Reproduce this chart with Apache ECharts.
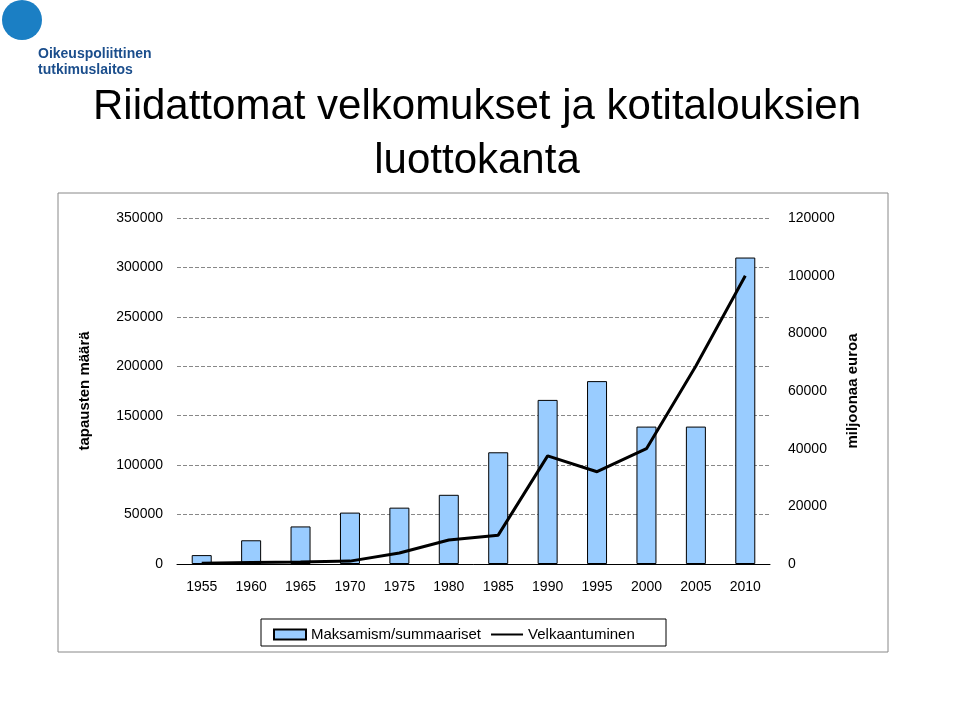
<!DOCTYPE html>
<html><head><meta charset="utf-8">
<script src="https://cdn.jsdelivr.net/npm/echarts@6/dist/echarts.min.js"></script>
<style>html,body{margin:0;padding:0;background:#fff}#c{width:959px;height:717px}</style>
</head><body><div id="c"></div>
<script>
const years = ['1955','1960','1965','1970','1975','1980','1985','1990','1995','2000','2005','2010'];
const maksamism = [9000,24000,38000,52000,57000,70000,113000,166000,185000,139000,139000,310000];
const velkaantuminen = [300,500,700,1000,3800,8300,10000,37500,32000,40000,68700,100000];
const chart = echarts.init(document.getElementById('c'));
const F = 'Liberation Sans, Arial, sans-serif';
chart.setOption({
  animation:false,
  graphic:[
    {type:'rect',shape:{x:58,y:193,width:830,height:459},style:{fill:'none',stroke:'#888',lineWidth:1}},
    {type:'circle',shape:{cx:22,cy:20,r:20},style:{fill:'#1b7fc4'}},
    {type:'text',x:38,y:46,style:{text:'Oikeuspoliittinen\ntutkimuslaitos',font:'bold 14px '+F,fill:'#1b4e8c',lineHeight:16}},
    {type:'text',x:477,y:80,style:{text:'Riidattomat velkomukset ja kotitalouksien\nluottokanta',font:'42px '+F,fill:'#000',align:'center',lineHeight:54}},
    {type:'rect',shape:{x:261,y:619,width:405,height:27},style:{fill:'#fff',stroke:'#000',lineWidth:1}}
  ],
  legend:{left:268,top:622,itemWidth:32,itemHeight:10,itemGap:10,textStyle:{fontFamily:F,fontSize:15,color:'#000'},
    data:[{name:'Maksamism/summaariset',icon:'rect'},{name:'Velkaantuminen',icon:'path://M0,4H32V6H0Z'}]},
  grid:{left:177,right:189,top:218,bottom:153},
  xAxis:{type:'category',data:years,axisTick:{show:false},axisLine:{lineStyle:{color:'#000'}},
    axisLabel:{fontFamily:F,fontSize:14,color:'#000',margin:16}},
  yAxis:[
    {type:'value',min:0,max:350000,interval:50000,name:'tapausten määrä',nameLocation:'middle',nameGap:85,
     nameTextStyle:{fontFamily:F,fontSize:15,fontWeight:'bold',color:'#000'},
     axisLabel:{fontFamily:F,fontSize:14,color:'#000',margin:14,formatter:v=>String(v)},axisLine:{show:false},axisTick:{show:false},
     splitLine:{lineStyle:{color:'#888',type:'dashed'}}},
    {type:'value',min:0,max:120000,interval:20000,name:'miljoonaa euroa',nameLocation:'middle',nameGap:72,
     nameTextStyle:{fontFamily:F,fontSize:15,fontWeight:'bold',color:'#000'},
     axisLabel:{fontFamily:F,fontSize:14,color:'#000',margin:18,formatter:v=>String(v)},axisLine:{show:false},axisTick:{show:false},splitLine:{show:false}}
  ],
  series:[
    {name:'Maksamism/summaariset',type:'bar',data:maksamism,barWidth:20,
     itemStyle:{color:'#99ccff',borderColor:'#000',borderWidth:1}},
    {name:'Velkaantuminen',type:'line',yAxisIndex:1,data:velkaantuminen,symbol:'none',
     lineStyle:{color:'#000',width:3},itemStyle:{color:'#000'}}
  ]
});
</script></body></html>
